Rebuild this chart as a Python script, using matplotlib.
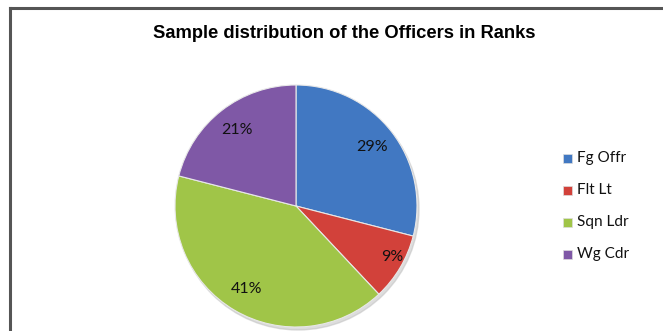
import matplotlib
matplotlib.use("Agg")
import matplotlib.pyplot as plt
from matplotlib.lines import Line2D
from matplotlib.patches import Rectangle

title = "Sample distribution of the Officers in Ranks"
categories = ["Fg Offr", "Flt Lt", "Sqn Ldr", "Wg Cdr"]
values = [29, 9, 41, 21]
colors = ["#4178c2", "#d2413a", "#a0c548", "#7f58a6"]

W, H = 663, 331
fig = plt.figure(figsize=(W / 100, H / 100), dpi=100)
ax = fig.add_axes([0, 0, 1, 1])

cx, cy, r = 296, H - 206, 121

# soft shadow under the pie
shadow = plt.Circle((cx + 2, cy - 3), r, color="#bdbdbd", alpha=0.5, zorder=0)
ax.add_patch(shadow)

wedges, texts, autotexts = ax.pie(
    values, colors=colors, startangle=90, counterclock=False,
    center=(cx, cy), radius=r, autopct="%1.0f%%", pctdistance=0.8,
    wedgeprops=dict(edgecolor="#e8e8e8", linewidth=0.8),
    textprops=dict(fontsize=11.5, family="Lato", color="#111111"),
)
# small slice label sits nearer the rim
autotexts[1].set_position((cx + 0.9 * r * 0.88, cy - 0.9 * r * 0.47))

ax.set_xlim(0, W)
ax.set_ylim(0, H)
ax.set_aspect("equal")
ax.axis("off")

# frame lines (top and left)
ax.add_line(Line2D([10, W], [H - 8, H - 8], color="#555555", lw=2.2))
ax.add_line(Line2D([10, 10], [0, H - 8], color="#555555", lw=2.2))

ax.text(344, H - 33, title, ha="center", va="center", fontsize=13.2,
        fontweight="bold", family="Liberation Sans")

# legend
ys = [158, 190, 222, 254]
for cat, col, y in zip(categories, colors, ys):
    ax.add_patch(Rectangle((563, H - y - 4.5), 9, 9, facecolor=col,
                           edgecolor="#dddddd", lw=0.5))
    ax.text(577, H - y, cat, ha="left", va="center", fontsize=11,
            family="Lato", color="#111111")

fig.savefig("out.png", dpi=100)
